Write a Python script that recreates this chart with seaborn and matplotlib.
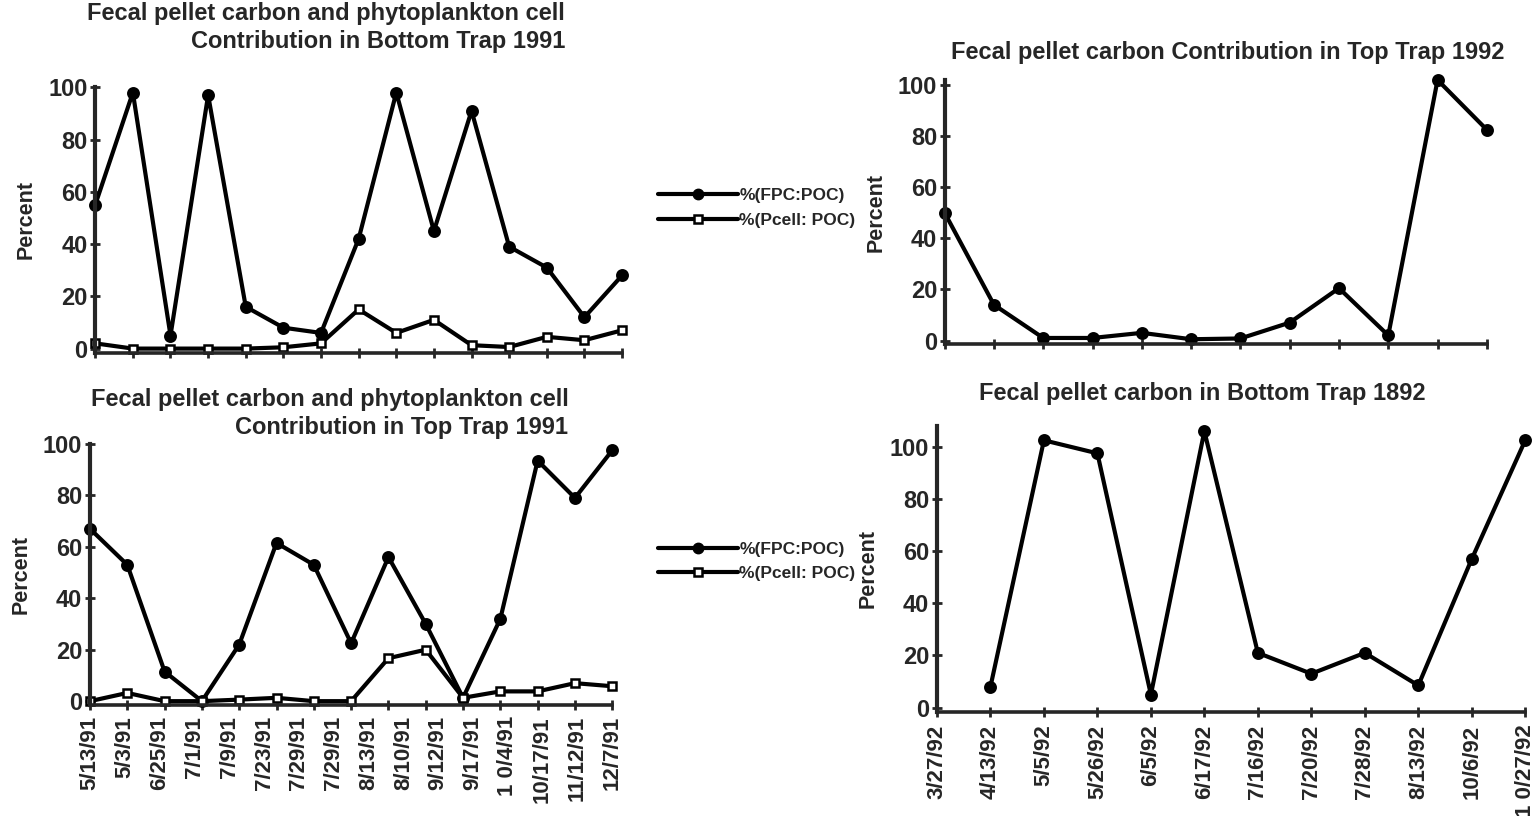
import numpy as np
import pandas as pd
import seaborn as sns
import matplotlib
matplotlib.use("Agg")
import matplotlib.pyplot as plt
from matplotlib.lines import Line2D

# Values (percent).
fpc_bottom_91 = [55, 98, 5, 97, 16, 8, 6, 42, 98, 45, 91, 39, 31, 12, 28]
pcell_bottom_91 = [2, 0, 0, 0, 0, 0.5, 2, 15, 6, 11, 1.3, 0.6, 4.5, 3.2, 7]

fpc_top_91 = [67, 53, 11.5, 0, 22, 61.5, 53, 22.5, 56, 30, 1.3, 32, 93.5, 79, 97.5]
pcell_top_91 = [0, 3.2, 0, 0, 0.6, 1.3, 0, 0, 16.7, 20, 1.3, 3.8, 3.8, 7, 5.8]
dates_91 = ["5/13/91", "5/3/91", "6/25/91", "7/1/91", "7/9/91", "7/23/91",
            "7/29/91", "7/29/91", "8/13/91", "8/10/91", "9/12/91", "9/17/91",
            "1 0/4/91", "10/17/91", "11/12/91", "12/7/91"]

fpc_top_92 = [50, 14, 1, 1, 3, 0.5, 0.8, 7, 20.5, 2, 102, 82.5]

fpc_bottom_92 = [np.nan, 8, 102.5, 97.5, 5, 106, 21, 13, 21, 8.5, 57, 102.5]
dates_92 = ["3/27/92", "4/13/92", "5/5/92", "5/26/92", "6/5/92", "6/17/92",
            "7/16/92", "7/20/92", "7/28/92", "8/13/92", "10/6/92", "1 0/27/92"]

sns.set_theme(style="ticks")
plt.rcParams["font.family"] = ["Liberation Sans", "DejaVu Sans"]
plt.rcParams["font.weight"] = "bold"

fig = plt.figure(figsize=(15.36, 8.16), dpi=100)
ax_tl = fig.add_axes([0.062, 0.568, 0.343, 0.325])
ax_bl = fig.add_axes([0.0586, 0.136, 0.340, 0.320])
ax_tr = fig.add_axes([0.615, 0.578, 0.353, 0.324])
ax_br = fig.add_axes([0.610, 0.128, 0.383, 0.350])

LW = 3.0
fs = 17


def draw(ax, values, marker, face):
    df = pd.DataFrame({"x": np.arange(len(values)), "y": values})
    sns.lineplot(data=df, x="x", y="y", ax=ax, color="black", lw=LW,
                 marker=marker, markersize=7.5 if marker == "o" else 6,
                 markerfacecolor=face, markeredgecolor="black",
                 markeredgewidth=1.8, clip_on=False)


def style(ax, n, ytop):
    sns.despine(ax=ax)
    ax.set_xlim(0, n - 1)
    ax.set_ylim(-1.5, ytop)
    ax.spines["left"].set_linewidth(3)
    ax.spines["bottom"].set_linewidth(2.6)
    ax.set_yticks(range(0, 101, 20))
    ax.set_xticks(range(n))
    ax.set_xticklabels([])
    ax.tick_params(axis="both", direction="inout", length=7, width=2,
                   labelsize=fs, pad=2)
    ax.set_xlabel("")
    ax.set_ylabel("Percent", fontsize=15.5, fontweight="bold", labelpad=8)


draw(ax_tl, fpc_bottom_91, "o", "black")
draw(ax_tl, pcell_bottom_91, "s", "white")
style(ax_tl, len(fpc_bottom_91), 100)

draw(ax_bl, fpc_top_91, "o", "black")
draw(ax_bl, pcell_top_91, "s", "white")
style(ax_bl, len(fpc_top_91), 100)
# 16 date labels were typed under 15 tick marks in the original
ax_bl.xaxis.remove_overlapping_locs = False
ax_bl.set_xticks(np.linspace(0, len(fpc_top_91) - 1, len(dates_91)), minor=True)
ax_bl.set_xticklabels(dates_91, minor=True, rotation=90, fontsize=16)
ax_bl.tick_params(axis="x", which="minor", length=0, pad=8)

draw(ax_tr, fpc_top_92, "o", "black")
style(ax_tr, len(fpc_top_92), 102)

draw(ax_br, fpc_bottom_92, "o", "black")
style(ax_br, len(fpc_bottom_92), 108)
ax_br.set_xticklabels(dates_92, rotation=90, fontsize=16)
ax_br.tick_params(axis="x", pad=6)

# titles
fig.text(0.368, 0.998, "Fecal pellet carbon and phytoplankton cell\n"
         "Contribution in Bottom Trap 1991", ha="right", va="top",
         multialignment="right", fontsize=fs, fontweight="bold",
         linespacing=1.3)
fig.text(0.370, 0.525, "Fecal pellet carbon and phytoplankton cell\n"
         "Contribution in Top Trap 1991", ha="right", va="top",
         multialignment="right", fontsize=fs, fontweight="bold",
         linespacing=1.3)
fig.text(0.799, 0.950, "Fecal pellet carbon Contribution in Top Trap 1992",
         ha="center", va="top", fontsize=fs, fontweight="bold")
fig.text(0.783, 0.532, "Fecal pellet carbon in Bottom Trap 1892",
         ha="center", va="top", fontsize=fs, fontweight="bold")

# legends between the panels
handles = [Line2D([], [], color="black", lw=LW, marker="o", markersize=7.5,
                  markerfacecolor="black"),
           Line2D([], [], color="black", lw=LW, marker="s", markersize=6,
                  markerfacecolor="white", markeredgewidth=1.8)]
for y, labels in [(0.745, ["%(FPC:POC)", "%(Pcell: POC)"]),
                  (0.312, ["%(FPC:POC)", "%(Pcell: POC)"])]:
    fig.legend(handles, labels, loc="center left", bbox_to_anchor=(0.418, y),
               frameon=False, handlelength=4.6, handletextpad=0.1,
               labelspacing=0.55, prop={"size": 12.5, "weight": "bold"})

fig.savefig("out.png", dpi=100)
